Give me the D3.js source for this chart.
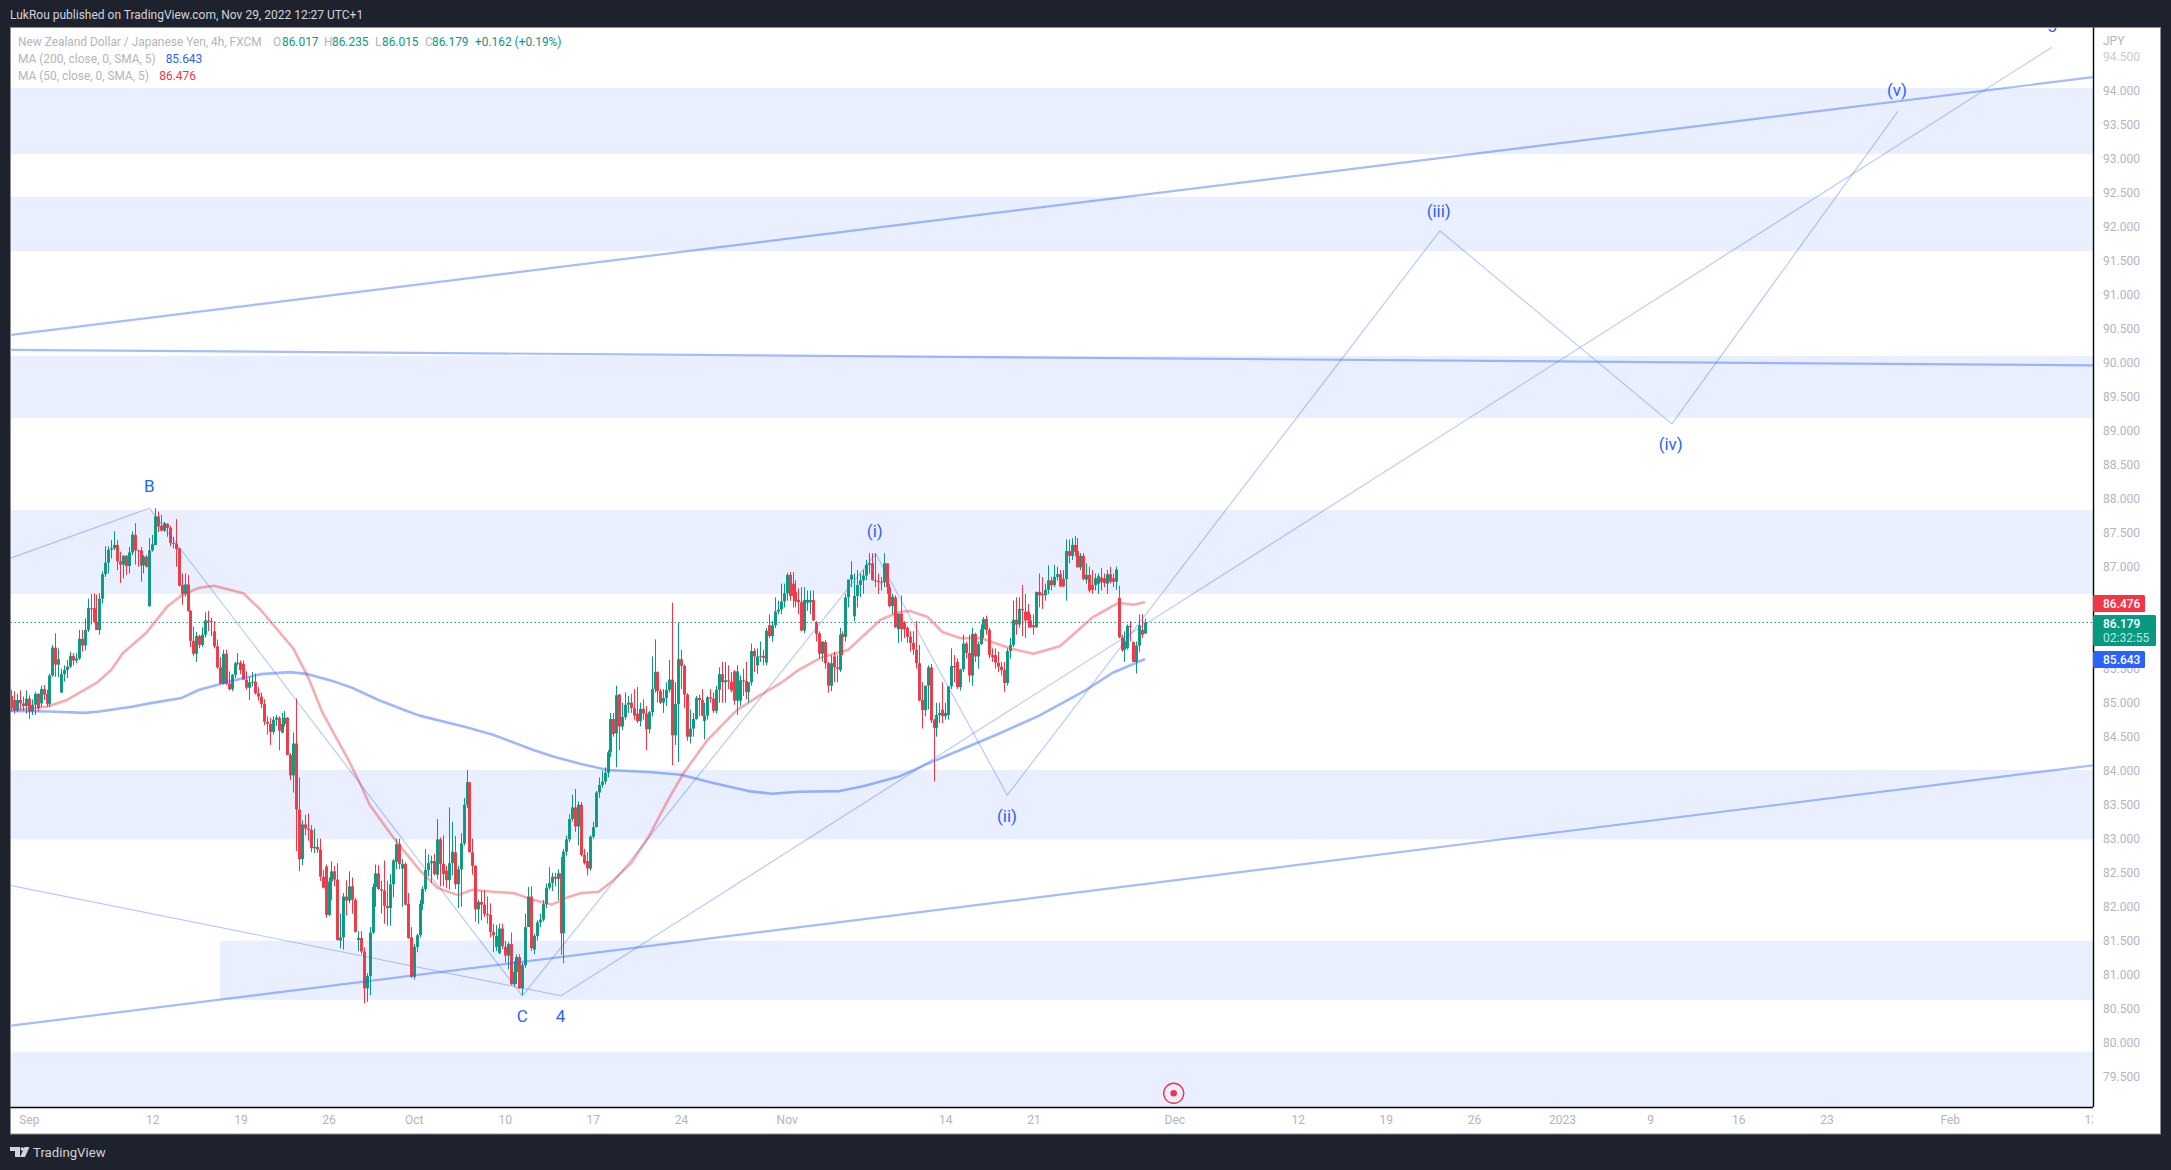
<!DOCTYPE html>
<html><head><meta charset="utf-8"><title>NZDJPY</title>
<script src="https://cdn.jsdelivr.net/npm/d3@7"></script>
<style>html,body{margin:0;padding:0;background:#1e222d;overflow:hidden}svg{display:block}text{font-family:Roboto,sans-serif}</style>
</head><body><svg id="c" width="2171" height="1170"></svg>
<script>
// OHLC rows [open, high, low, close], in blocks of 30 bars
const bars01=[[85.10,85.19,84.87,84.92],[85.04,85.17,84.84,84.89],[84.89,85.13,84.86,85.04],[85.04,85.18,84.90,84.99],[84.99,85.09,84.88,84.95],[84.95,85.18,84.84,85.06],[85.06,85.11,84.76,84.87],[84.87,85.05,84.82,84.97],[84.97,85.16,84.82,85.13],[85.13,85.14,84.87,84.92],[84.99,85.25,84.94,85.20],[85.20,85.26,85.04,85.12],[85.13,85.19,84.94,84.98],[84.98,85.43,84.94,85.40],[85.40,85.85,85.38,85.81],[85.81,86.02,85.38,85.56],[85.56,85.80,85.38,85.64],[85.15,85.50,85.14,85.42],[85.42,85.55,85.31,85.48],[85.48,85.63,85.36,85.53],[85.53,85.75,85.51,85.69],[85.69,85.73,85.55,85.62],[85.62,85.73,85.58,85.65],[85.65,86.07,85.63,85.94],[85.94,86.07,85.75,85.84],[85.84,86.24,85.77,86.07],[86.07,86.53,86.04,86.39],[86.39,86.60,86.15,86.38],[86.39,86.61,86.17,86.19],[86.19,86.59,86.07,86.07]];
const bars02=[[86.07,86.61,86.00,86.53],[86.53,86.93,86.46,86.89],[86.89,87.30,86.85,87.06],[87.06,87.30,86.90,87.25],[87.25,87.39,87.12,87.27],[87.27,87.52,87.24,87.32],[87.32,87.39,86.95,87.08],[87.08,87.22,86.76,87.03],[87.03,87.17,86.83,87.16],[87.16,87.17,86.88,87.01],[87.01,87.29,86.90,87.21],[87.21,87.52,87.17,87.47],[87.47,87.64,87.03,87.24],[87.24,87.25,87.00,87.23],[87.24,87.29,86.78,87.02],[87.02,87.17,86.90,87.15],[87.15,87.17,86.99,87.00],[86.42,87.42,86.41,87.24],[87.24,87.47,87.22,87.33],[87.32,87.86,87.32,87.74],[87.74,87.81,87.51,87.59],[87.60,87.76,87.52,87.53],[87.53,87.66,87.51,87.64],[87.63,87.64,87.44,87.57],[87.57,87.60,87.30,87.35],[87.35,87.44,87.27,87.34],[87.34,87.70,87.00,87.26],[87.27,87.27,86.71,86.72],[86.73,86.90,86.44,86.60],[86.60,86.90,86.56,86.74]];
const bars03=[[86.74,86.88,86.34,86.35],[86.35,86.36,85.82,85.91],[85.91,86.12,85.68,85.72],[85.72,86.04,85.60,85.98],[85.98,86.00,85.80,85.85],[85.85,86.11,85.82,86.00],[86.00,86.33,85.96,86.21],[86.21,86.35,86.05,86.19],[86.19,86.25,85.98,86.20],[86.05,86.20,85.80,85.83],[85.83,85.93,85.50,85.52],[85.52,85.67,85.27,85.28],[85.28,85.78,85.27,85.72],[85.72,85.78,85.26,85.28],[85.28,85.46,85.18,85.20],[85.20,85.42,85.17,85.41],[85.41,85.60,85.36,85.58],[85.58,85.73,85.55,85.59],[85.59,85.62,85.42,85.48],[85.57,85.62,85.34,85.34],[85.34,85.46,85.19,85.22],[85.22,85.38,85.04,85.30],[85.30,85.45,85.24,85.31],[85.31,85.43,85.12,85.14],[85.14,85.23,85.03,85.09],[85.09,85.15,84.92,84.98],[84.98,85.05,84.67,84.72],[84.72,84.80,84.53,84.69],[84.69,84.78,84.38,84.57],[84.57,84.80,84.53,84.75]];
const bars04=[[84.75,84.82,84.66,84.78],[84.78,84.80,84.30,84.59],[84.56,84.85,84.55,84.69],[84.69,84.88,84.65,84.78],[84.78,84.79,84.23,84.23],[84.23,84.26,83.86,83.93],[83.93,84.56,83.68,84.40],[84.40,85.06,82.82,83.43],[83.43,83.90,82.52,82.70],[82.70,83.27,82.61,83.21],[83.21,83.35,83.05,83.15],[83.15,83.37,82.97,83.13],[83.13,83.20,82.80,82.86],[82.86,83.15,82.79,82.88],[82.88,83.00,82.79,82.84],[82.84,83.00,82.38,82.44],[82.44,82.54,82.27,82.28],[82.59,82.62,81.84,81.88],[81.88,82.43,81.86,82.37],[82.37,82.67,82.10,82.52],[82.52,82.60,82.30,82.40],[82.40,82.64,81.50,81.51],[81.50,81.90,81.39,81.55],[81.55,82.20,81.37,82.15],[82.15,82.39,81.87,82.09],[82.09,82.52,82.05,82.30],[82.30,82.43,81.90,82.10],[82.10,82.13,81.62,81.63],[81.51,81.64,81.35,81.54],[81.54,81.64,81.30,81.34]];
const bars05=[[81.34,81.40,80.58,80.80],[80.80,81.02,80.60,80.98],[80.98,81.70,80.70,81.62],[81.62,82.34,81.60,82.29],[82.29,82.62,82.00,82.49],[82.49,82.61,82.25,82.26],[82.26,82.38,81.90,82.24],[82.24,82.68,81.75,82.01],[82.01,82.38,81.72,81.98],[81.98,82.48,81.72,82.33],[82.33,82.70,82.14,82.68],[82.66,83.00,82.55,82.92],[82.92,83.00,82.55,82.63],[82.56,82.70,82.00,82.63],[82.63,82.65,82.02,82.03],[82.04,82.20,81.53,81.54],[81.55,81.70,80.95,80.97],[80.97,81.45,80.93,81.41],[81.41,81.60,81.33,81.58],[81.58,82.10,81.55,82.04],[82.04,82.30,81.95,82.26],[82.26,82.85,82.22,82.54],[82.54,82.77,82.45,82.64],[82.64,82.75,82.35,82.67],[82.67,82.78,82.46,82.48],[82.47,83.29,82.40,82.99],[82.99,83.02,82.30,82.63],[82.63,83.05,82.30,82.48],[82.53,82.60,82.27,82.39],[82.39,83.46,82.25,82.64]];
const bars06=[[82.64,83.25,82.46,82.81],[82.80,83.04,82.26,82.33],[82.33,82.60,81.98,82.55],[82.55,83.08,82.00,82.93],[82.93,83.60,82.90,83.50],[83.50,84.01,83.45,83.83],[83.83,83.83,82.80,82.80],[82.80,83.00,82.47,82.60],[82.60,82.61,81.78,81.96],[81.96,82.10,81.75,82.07],[82.07,82.23,81.80,82.03],[82.03,82.24,81.85,81.89],[81.89,82.15,81.75,81.88],[81.88,82.05,81.55,81.63],[81.63,81.75,81.33,81.58],[81.41,81.73,81.35,81.57],[81.32,81.75,81.30,81.68],[81.68,81.75,81.38,81.42],[81.41,81.50,81.18,81.28],[81.28,81.48,81.08,81.45],[81.45,81.62,80.85,80.86],[80.86,81.20,80.83,81.04],[81.04,81.30,80.86,81.26],[81.26,81.30,80.79,80.80],[80.80,81.18,80.70,81.14],[81.14,81.90,81.10,81.70],[81.70,82.29,81.70,82.15],[82.15,82.30,81.35,81.39],[81.37,81.60,81.30,81.57],[81.57,81.80,81.50,81.77]];
const bars07=[[81.77,81.90,81.70,81.81],[81.81,82.10,81.78,82.04],[82.04,82.34,81.98,82.28],[82.28,82.58,82.25,82.35],[82.35,82.50,82.23,82.44],[82.44,82.50,82.30,82.41],[82.41,82.55,82.10,82.49],[82.49,82.73,81.29,81.61],[81.61,82.85,81.17,82.81],[82.81,83.05,82.75,82.99],[82.99,83.36,82.95,83.29],[83.29,83.65,83.25,83.46],[83.46,83.73,83.10,83.18],[83.18,83.55,82.90,83.50],[83.50,83.54,82.74,82.76],[82.76,82.85,82.62,82.64],[82.67,82.80,82.46,82.56],[82.56,83.05,82.53,83.03],[83.03,83.25,83.00,83.17],[83.17,83.70,83.17,83.68],[83.68,83.90,83.60,83.79],[83.79,84.00,83.75,83.84],[83.84,84.05,83.80,83.97],[83.97,84.30,83.90,84.27],[84.27,84.85,84.20,84.76],[84.76,84.85,84.50,84.54],[84.55,85.25,84.05,85.11],[85.12,85.13,84.30,84.65],[84.65,85.00,84.60,84.79],[84.79,85.15,84.75,84.97]];
const bars08=[[84.97,85.10,84.85,85.00],[85.00,85.13,84.85,84.92],[84.92,85.20,84.75,84.81],[84.84,85.23,84.70,84.73],[84.73,85.00,84.65,84.91],[84.91,85.05,84.75,84.84],[84.84,84.95,84.30,84.61],[84.61,84.88,84.55,84.86],[84.86,85.68,84.80,85.20],[85.20,85.93,85.15,85.45],[85.45,85.46,85.00,85.17],[85.17,85.20,84.98,85.00],[85.00,85.20,84.85,85.07],[85.07,85.30,84.95,85.19],[85.19,85.63,85.15,85.34],[85.34,86.47,84.08,84.52],[84.52,85.30,84.38,84.98],[84.98,86.17,84.13,85.64],[85.64,85.78,85.20,85.54],[85.54,85.56,84.92,85.12],[85.12,85.14,84.44,84.50],[84.50,84.90,84.40,84.62],[84.62,84.85,84.50,84.76],[84.76,85.10,84.75,85.07],[85.07,85.12,84.80,85.04],[85.04,85.20,84.80,84.81],[84.73,85.00,84.46,84.81],[84.81,85.10,84.75,85.08],[85.08,85.20,85.00,85.06],[85.06,85.15,84.85,84.88]];
const bars09=[[84.88,85.25,84.84,85.19],[85.19,85.52,85.00,85.42],[85.42,85.60,85.00,85.30],[85.30,85.60,85.00,85.33],[85.33,85.55,85.20,85.31],[85.31,85.45,85.15,85.18],[85.46,85.48,84.97,85.03],[85.03,85.55,84.82,85.46],[85.03,85.40,84.95,85.33],[85.33,85.50,85.10,85.32],[85.32,85.60,85.05,85.16],[85.16,85.30,85.00,85.30],[85.30,85.87,85.25,85.76],[85.76,85.80,85.45,85.68],[85.55,85.80,85.42,85.68],[85.68,85.90,85.60,85.69],[85.69,85.78,85.55,85.66],[85.59,86.10,85.55,86.06],[86.14,86.30,85.95,85.98],[85.98,86.20,85.90,86.14],[86.14,86.55,86.10,86.34],[86.34,86.50,86.30,86.37],[86.37,86.75,86.30,86.49],[86.49,86.75,86.40,86.61],[86.61,86.91,86.50,86.88],[86.88,86.92,86.50,86.57],[86.75,86.92,86.40,86.57],[86.63,86.80,86.40,86.49],[86.51,86.68,86.30,86.48],[86.48,86.70,86.05,86.06]];
const bars10=[[86.06,86.70,86.02,86.51],[86.47,86.65,86.35,86.51],[86.48,86.65,86.30,86.51],[86.51,86.65,86.20,86.21],[86.18,86.20,85.90,86.01],[86.02,86.05,85.65,85.72],[85.72,85.90,85.60,85.90],[85.89,85.92,85.50,85.58],[85.58,85.60,85.15,85.25],[85.25,85.70,85.17,85.58],[85.68,85.75,85.30,85.52],[85.52,85.70,85.30,85.50],[85.48,86.10,85.45,86.00],[86.01,86.05,85.70,85.96],[85.97,86.60,85.90,86.55],[86.55,86.81,86.40,86.81],[86.81,87.08,86.70,86.88],[86.27,86.90,86.20,86.57],[86.57,86.95,86.40,86.73],[86.73,86.90,86.55,86.80],[86.80,86.95,86.60,86.87],[86.87,87.10,86.80,87.03],[87.03,87.20,86.90,87.05],[87.05,87.20,86.80,86.80],[86.80,87.20,86.70,86.79],[86.79,86.90,86.60,86.78],[86.78,86.85,86.65,86.77],[86.77,87.20,86.70,87.05],[87.05,87.05,86.60,86.70],[86.70,86.75,86.40,86.42]];
const bars11=[[86.42,86.60,86.30,86.56],[86.55,86.58,86.10,86.11],[86.08,86.31,85.88,86.31],[86.31,86.58,85.90,86.08],[86.18,86.20,85.95,86.08],[86.10,86.12,85.88,85.97],[85.97,86.05,85.75,85.88],[85.88,86.05,85.70,85.78],[85.78,86.20,85.50,85.58],[85.58,85.85,85.02,85.03],[85.04,85.30,84.62,84.89],[84.89,85.25,84.80,85.25],[85.25,85.55,84.90,85.52],[85.52,85.57,84.70,84.74],[84.74,84.76,83.84,84.63],[84.63,85.00,84.50,84.82],[84.82,85.00,84.70,84.85],[84.90,85.30,84.70,84.80],[84.80,85.00,84.75,84.85],[84.82,85.24,84.75,85.24],[85.24,85.80,85.20,85.54],[85.54,85.70,85.30,85.52],[85.60,85.65,85.20,85.23],[85.23,85.50,85.18,85.49],[85.49,86.00,85.45,85.87],[85.87,85.90,85.65,85.73],[85.73,86.00,85.30,85.40],[85.40,86.10,85.25,86.01],[86.01,86.03,85.60,85.68],[85.68,85.90,85.50,85.86]];
const bars12=[[85.86,86.15,85.85,86.08],[86.08,86.26,85.95,86.23],[86.23,86.28,86.00,86.07],[86.07,86.10,85.65,85.70],[85.70,85.80,85.60,85.67],[85.70,85.80,85.50,85.59],[85.59,85.75,85.45,85.53],[85.53,85.60,85.40,85.48],[85.48,85.60,85.16,85.29],[85.29,85.80,85.25,85.76],[85.76,85.95,85.65,85.85],[85.85,86.50,85.82,86.22],[86.22,86.55,86.00,86.15],[86.15,86.55,86.10,86.38],[86.38,86.73,85.98,86.36],[86.34,86.60,85.95,86.21],[86.34,86.45,86.10,86.21],[86.21,86.30,86.10,86.11],[86.14,86.30,86.00,86.11],[86.11,86.63,86.10,86.63],[86.63,86.90,86.40,86.58],[86.60,86.85,86.38,86.58],[86.58,86.75,86.50,86.66],[86.66,87.02,86.60,86.80],[86.80,86.85,86.65,86.73],[86.73,87.03,86.70,86.85],[86.85,87.00,86.80,86.89],[86.89,86.95,86.70,86.71],[86.82,86.95,86.70,86.71],[86.82,87.40,86.50,87.23]];
const bars13=[[87.23,87.40,87.05,87.16],[87.16,87.42,87.10,87.32],[87.32,87.45,87.15,87.22],[87.23,87.42,86.99,86.99],[86.99,87.20,86.95,87.16],[87.16,87.20,86.80,86.82],[86.81,87.05,86.75,86.88],[86.88,87.00,86.62,86.65],[86.73,86.95,86.60,86.66],[86.73,86.90,86.65,86.83],[86.75,86.90,86.60,86.86],[86.84,86.98,86.65,86.77],[86.83,86.90,86.70,86.76],[86.75,86.95,86.60,86.89],[86.89,87.00,86.75,86.78],[86.83,86.90,86.70,86.78],[86.78,87.00,86.66,86.96],[86.54,86.72,85.95,85.96],[85.96,86.00,85.75,85.77],[85.78,86.05,85.60,85.90],[85.80,86.15,85.78,86.13],[86.13,86.20,85.90,86.12],[85.89,85.90,85.60,85.60],[85.60,85.90,85.43,85.84],[85.84,86.30,85.75,86.14],[86.07,86.30,85.95,86.00],[86.017,86.235,86.015,86.179]];
// moving averages: bar number and value at each vertex
const ma200Bars=[0,13,25,30,41,47,58,64,76,85,95,101,110,116,125,134,139,155,164,178,185,194,203,217,228,239,251,259,268,282,290,302,314,319,336,350,366,375,386];
const ma200Vals=[84.88,84.87,84.85,84.87,84.94,84.99,85.07,85.19,85.33,85.42,85.45,85.42,85.31,85.22,85.04,84.89,84.81,84.64,84.53,84.30,84.20,84.10,84.01,83.98,83.94,83.82,83.70,83.66,83.69,83.70,83.77,83.91,84.14,84.23,84.54,84.81,85.19,85.44,85.643];
const ma50Bars=[0,12,19,29,34,38,46,53,58,64,69,79,85,96,101,106,115,119,122,130,139,145,152,157,164,171,177,184,189,194,200,205,211,217,224,229,237,247,255,262,268,276,285,296,302,306,312,317,323,330,340,348,357,368,377,382,386];
const ma50Vals=[84.89,84.94,85.04,85.29,85.48,85.73,86.03,86.41,86.58,86.69,86.72,86.61,86.36,85.80,85.38,84.85,84.14,83.79,83.50,83.02,82.54,82.28,82.17,82.25,82.22,82.20,82.11,82.03,82.13,82.20,82.22,82.39,82.64,83.03,83.60,83.97,84.45,84.89,85.11,85.29,85.48,85.67,85.78,86.22,86.33,86.35,86.26,86.04,85.95,85.95,85.80,85.72,85.83,86.25,86.47,86.44,86.476];
// price zones [top, bottom], first bar of each
const zoneTops=[94.04,92.44,90.10,87.83,84.01,81.50,79.87];
const zoneBottoms=[93.07,91.64,89.19,86.60,82.99,80.63,79.06];
const zoneStarts=[0,0,0,0,0,71,0];
// drawn lines: bar numbers and prices
const upperBars=[0,709],upperVals=[90.41,94.20];
const middleBars=[0,709],middleVals=[90.19,89.96];
const lowerBars=[0,709],lowerVals=[80.25,84.08];
const abcBars=[0,47,174],abcVals=[87.13,87.86,80.69];
const fourBars=[0,187.2,694.8],fourVals=[82.31,80.69,94.64];
const waveBars=[174,294.3,339.1,486.4,565.4,642.4],waveVals=[80.69,87.19,83.64,91.94,89.10,93.70];
// wave labels
const waveLabels=["B","C","4","(i)","(ii)","(iii)","(iv)","(v)","5"];
const waveLabelBars=[47,174,187,294,339,486,565,642,694.8];
const waveLabelVals=[88.19,80.39,80.39,87.52,83.34,92.24,88.80,94.01,94.95];
// axes
const priceTicks=[79.5,80,80.5,81,81.5,82,82.5,83,83.5,84,84.5,85,85.5,87,87.5,88,88.5,89,89.5,90,90.5,91,91.5,92,92.5,93,93.5,94,94.5];
const timeTickBars=[6,48,78,108,137,168,198,228,264,318,348,396,438,468,498,528,558,588,618,660,708];
const timeTickLabels=["Sep","12","19","26","Oct","10","17","24","Nov","14","21","Dec","12","19","26","2023","9","16","23","Feb","13"];
const lastClose=86.179, ma200Last=85.643, ma50Last=86.476;

const GREEN="#089981",RED="#f23645",BLUE="#2962ff",GREY="#b2b5be";
const svg=d3.select("#c");
const L=10.5,T=27.5,PR=2093,B=1107,R=2160.5,BB=1134;
const x=d3.scaleLinear().domain([0,386]).range([11.3,1145]);
const y=d3.scaleLinear().domain([94,79.5]).range([90.7,1076.7]);
const candles=[bars01,bars02,bars03,bars04,bars05,bars06,bars07,bars08,bars09,bars10,bars11,bars12,bars13].flat().map(r=>({o:r[0],h:r[1],l:r[2],c:r[3]}));

svg.append("rect").attr("width",2171).attr("height",1170).attr("fill","#1e222d");
svg.append("rect").attr("x",L).attr("y",T).attr("width",R-L).attr("height",BB-T).attr("fill","#fff").attr("stroke","#8a8d96").attr("stroke-width",1);
const defs=svg.append("defs");
defs.append("clipPath").attr("id","plot").append("rect").attr("x",L+.5).attr("y",T+.5).attr("width",PR-L-.5).attr("height",B-T-.5);
defs.append("clipPath").attr("id","timeclip").append("rect").attr("x",L+.5).attr("y",B).attr("width",PR-L-.5).attr("height",BB-B);
const plot=svg.append("g").attr("clip-path","url(#plot)");

// zones
plot.append("g").selectAll("rect").data(zoneTops).join("rect")
 .attr("x",(d,i)=>x(zoneStarts[i])).attr("width",(d,i)=>x(709)-x(zoneStarts[i]))
 .attr("y",d=>y(d)).attr("height",(d,i)=>y(zoneBottoms[i])-y(d)).attr("fill","#e9effe");
plot.select("g").selectAll("rect").filter((d,i)=>zoneStarts[i]===0).attr("x",L);

// last price line
plot.append("line").attr("x1",L).attr("x2",PR).attr("y1",Math.floor(y(lastClose))+.5).attr("y2",Math.floor(y(lastClose))+.5)
 .attr("stroke","#0aa88e").attr("stroke-width",1).attr("stroke-dasharray","1.5 2.5");

// candles
const cg=plot.append("g");
cg.selectAll("line").data(candles).join("line")
 .attr("x1",(d,i)=>Math.round(x(i))+.5).attr("x2",(d,i)=>Math.round(x(i))+.5)
 .attr("y1",d=>y(d.h)).attr("y2",d=>y(d.l))
 .attr("stroke",d=>d.c>=d.o?GREEN:RED).attr("stroke-width",1);
cg.selectAll("rect").data(candles).join("rect")
 .attr("x",(d,i)=>Math.round(x(i))-.95).attr("width",2.9)
 .attr("y",d=>y(Math.max(d.o,d.c))).attr("height",d=>Math.max(1,Math.abs(y(d.o)-y(d.c))))
 .attr("fill",d=>d.c>=d.o?GREEN:RED);

// helper for lines through the scales
const path=(bars,vals,stroke,w)=>{
 const pts=bars.map((b,i)=>[b,vals[i]]);
 plot.append("path").attr("d",d3.line().x(d=>x(d[0])).y(d=>y(d[1])).curve(d3.curveLinear)(pts))
  .attr("fill","none").attr("stroke",stroke).attr("stroke-width",w).attr("stroke-linejoin","round");
};
path(ma50Bars,ma50Vals,"rgba(242,54,69,0.42)",2.6);
path(ma200Bars,ma200Vals,"rgba(41,98,255,0.45)",2.6);
path(upperBars,upperVals,"rgba(41,98,255,0.42)",2.2);
path(middleBars,middleVals,"rgba(41,98,255,0.42)",2.2);
path(lowerBars,lowerVals,"rgba(41,98,255,0.42)",2.2);
path(abcBars,abcVals,"rgba(41,98,255,0.33)",1.2);
path(fourBars,fourVals,"rgba(41,98,255,0.33)",1.2);
path(waveBars,waveVals,"rgba(41,98,255,0.33)",1.2);

// wave labels
plot.append("g").selectAll("text").data(waveLabels).join("text")
 .attr("x",(d,i)=>x(waveLabelBars[i])).attr("y",(d,i)=>y(waveLabelVals[i])).attr("dy","0.36em")
 .attr("text-anchor","middle").attr("font-size",17).attr("fill",BLUE).text(d=>d);

// axes
const px=d3.axisRight(y).tickValues(priceTicks).tickSize(0).tickPadding(10).tickFormat(d3.format(".3f"));
const gyA=svg.append("g").attr("transform",`translate(${PR},0)`).call(px);
gyA.select(".domain").attr("stroke","#000").attr("stroke-width",1.4).attr("d",`M0.5,${T}V${B}`);
gyA.selectAll("text").attr("font-size",12).attr("fill",GREY).attr("font-family",'Roboto,sans-serif').attr("opacity",d=>d===94.5?0.7:1);
const tx=d3.axisBottom(x).tickValues(timeTickBars).tickSize(0).tickPadding(8).tickFormat((d,i)=>timeTickLabels[i]);
const gx=svg.append("g").attr("clip-path","url(#timeclip)");
const gxA=gx.append("g").attr("transform",`translate(0,${B})`).call(tx);
gxA.select(".domain").remove();
gxA.selectAll("text").attr("font-size",12).attr("fill",GREY).attr("font-family",'Roboto,sans-serif');
svg.append("line").attr("x1",L).attr("x2",PR).attr("y1",B+.5).attr("y2",B+.5).attr("stroke","#000").attr("stroke-width",1.4);
svg.append("text").attr("x",2103).attr("y",45).attr("font-size",12).attr("fill",GREY).text("JPY");

// price tags
const tag=(val,top,h,w,fill,lines)=>{
 const g=svg.append("g");
 g.append("rect").attr("x",PR).attr("y",top).attr("width",w).attr("height",h).attr("rx",1.5).attr("fill",fill);
 lines.forEach((t,i)=>g.append("text").attr("x",2103).attr("y",top+12.7+i*14).attr("font-size",12).attr("font-weight",i?400:500).attr("fill",i?"rgba(255,255,255,0.75)":"#fff").text(t));
};
tag(ma50Last,595,17,52,RED,[d3.format(".3f")(ma50Last)]);
tag(ma200Last,651,17,52,BLUE,[d3.format(".3f")(ma200Last)]);
tag(lastClose,615,31,63,GREEN,[d3.format(".3f")(lastClose),"02:32:55"]);

// header and legend
const t=(xx,yy,s,c,fs)=>svg.append("text").attr("x",xx).attr("y",yy).attr("font-size",fs||11.9).attr("fill",c).text(s);
t(10,19,"LukRou published on TradingView.com, Nov 29, 2022 12:27 UTC+1","#d1d4dc",12);
t(18,46,"New Zealand Dollar / Japanese Yen, 4h, FXCM",GREY);
t(273,46,"O",GREY);t(282,46,"86.017",GREEN);
t(324,46,"H",GREY);t(332,46,"86.235",GREEN);
t(375,46,"L",GREY);t(382,46,"86.015",GREEN);
t(425,46,"C",GREY);t(432,46,"86.179",GREEN);
t(475,46,"+0.162 (+0.19%)",GREEN);
t(18,63,"MA (200, close, 0, SMA, 5)",GREY);t(165.7,63,"85.643",BLUE);
t(18,80,"MA (50, close, 0, SMA, 5)",GREY);t(159.3,80,"86.476",RED);

// footer logo
const lg=svg.append("g").attr("fill","#d1d4dc");
lg.append("path").attr("d","M10,1147H20V1157H15V1151H10Z");
lg.append("circle").attr("cx",22.3).attr("cy",1149).attr("r",1.8);
lg.append("path").attr("d","M24.5,1147H29.5L25,1157H20Z");
t(33,1157,"TradingView","#d1d4dc",13.2);

// source marker
const mk=svg.append("g").attr("transform","translate(1173.7,1093.3)");
mk.append("circle").attr("r",10).attr("fill","none").attr("stroke",RED).attr("stroke-width",1.4);
mk.append("circle").attr("r",3.3).attr("fill",RED);
</script></body></html>
